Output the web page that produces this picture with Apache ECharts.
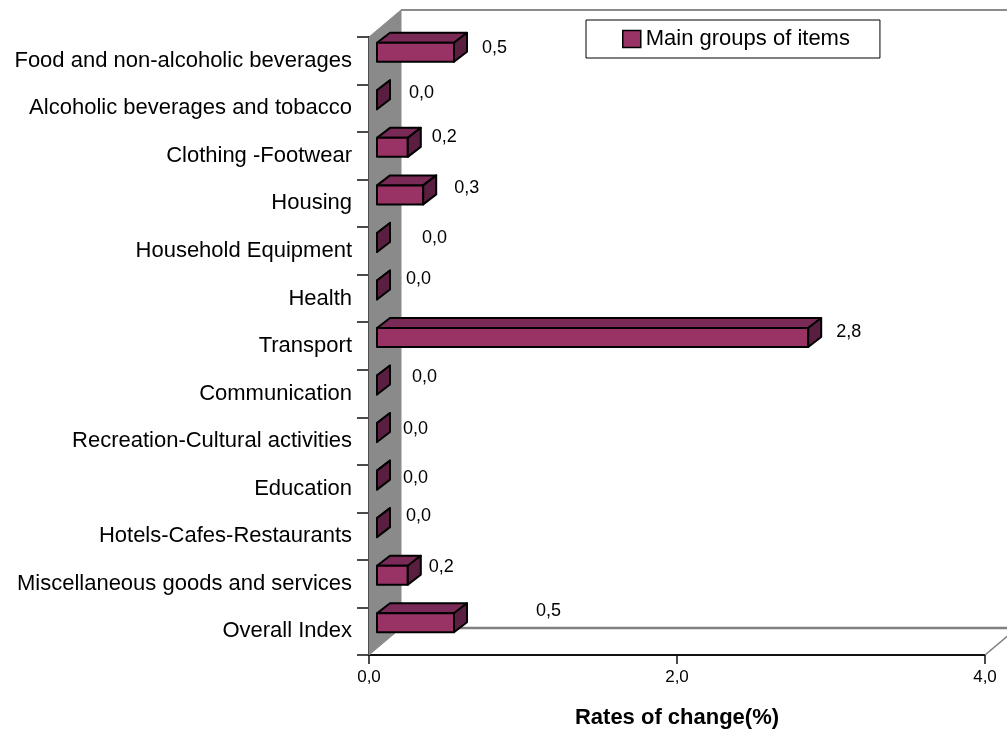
<!DOCTYPE html>
<html><head><meta charset="utf-8">
<script src="https://cdn.jsdelivr.net/npm/echarts@6/dist/echarts.min.js"></script>
<style>html,body{margin:0;padding:0;background:#fff}#c{width:1007px;height:740px}</style>
</head><body><div id="c"></div>
<script>
// ---- data ----
const categories = [
  'Food and non-alcoholic beverages',
  'Alcoholic beverages and tobacco',
  'Clothing -Footwear',
  'Housing',
  'Household Equipment',
  'Health',
  'Transport',
  'Communication',
  'Recreation-Cultural activities',
  'Education',
  'Hotels-Cafes-Restaurants',
  'Miscellaneous goods and services',
  'Overall Index'
];
const values = [0.5, 0.0, 0.2, 0.3, 0.0, 0.0, 2.8, 0.0, 0.0, 0.0, 0.0, 0.2, 0.5];
const seriesName = 'Main groups of items';
const axisTitle = 'Rates of change(%)';
const xMin = 0, xMax = 4, xStep = 2;

// ---- style / layout (not data) ----
const FONT = '"Liberation Sans", Arial, sans-serif';
const FRONT = '#993366', TOP = '#7a2a57', SIDE = '#5a1f40';
const WALL_DX = 32, WALL_DY = -27;      // chart depth projection
const BAR_FX = 8, BAR_FT = -18, BAR_FB = 1; // bar front face offset
const BAR_DX = 13, BAR_DY = -10;        // bar depth projection
const labelNudge = [[15,-13],[19,-15],[11,-19],[18,-15],[32,-13],[16,-19],[15,-14],[22,-17],[13,-12],[13,-11],[16,-20],[8,-17],[69,-20]];
const fmt = v => v.toFixed(1).replace('.', ',');

function renderWalls(params, api) {
  const cs = params.coordSys;
  const x = cs.x, y = cs.y, w = cs.width, h = cs.height, W = api.getWidth();
  return {
    type: 'group',
    children: [
      { type: 'polygon', shape: { points: [[x, y + h], [x, y], [x + WALL_DX, y + WALL_DY], [x + WALL_DX, y + h + WALL_DY]] },
        style: { fill: '#8a8a8a', stroke: '#8a8a8a', lineWidth: 1 } },
      { type: 'line', shape: { x1: x + WALL_DX, y1: y + WALL_DY, x2: W, y2: y + WALL_DY }, style: { stroke: '#8c8c8c', lineWidth: 2 } },
      { type: 'line', shape: { x1: x + WALL_DX, y1: y + h + WALL_DY, x2: W, y2: y + h + WALL_DY }, style: { stroke: '#808080', lineWidth: 2.5 } },
      { type: 'line', shape: { x1: x + w, y1: y + h, x2: x + w + WALL_DX, y2: y + h + WALL_DY }, style: { stroke: '#808080', lineWidth: 1.5 } }
    ]
  };
}

function renderBar(params, api) {
  const v = api.value(0), idx = api.value(1);
  const p0 = api.coord([0, idx]), p1 = api.coord([v, idx]);
  const cy = p0[1];
  const xa = p0[0] + BAR_FX, xb = p1[0] + BAR_FX;
  const yt = cy + BAR_FT, yb = cy + BAR_FB;
  const st = { stroke: '#000', lineWidth: 2, lineJoin: 'round' };
  const n = labelNudge[params.dataIndex] || [15, -15];
  return {
    type: 'group',
    children: [
      { type: 'polygon', shape: { points: [[xa, yt], [xb, yt], [xb + BAR_DX, yt + BAR_DY], [xa + BAR_DX, yt + BAR_DY]] },
        style: Object.assign({ fill: TOP }, st) },
      { type: 'polygon', shape: { points: [[xa, yt], [xb, yt], [xb, yb], [xa, yb]] },
        style: Object.assign({ fill: FRONT }, st) },
      { type: 'polygon', shape: { points: [[xb, yt], [xb + BAR_DX, yt + BAR_DY], [xb + BAR_DX, yb + BAR_DY], [xb, yb]] },
        style: Object.assign({ fill: SIDE }, st) },
      { type: 'text', x: xb + BAR_DX + n[0], y: cy + n[1],
        style: { text: fmt(v), fill: '#000', font: '18px ' + FONT, align: 'left', verticalAlign: 'middle' } }
    ]
  };
}

const chart = echarts.init(document.getElementById('c'), null, { renderer: 'canvas' });
chart.setOption({
  animation: false,
  backgroundColor: '#fff',
  grid: { left: 369, right: 22, top: 37, bottom: 85 },
  legend: {
    data: [{ name: seriesName, icon: 'rect' }],
    left: 586, top: 20,
    borderColor: '#000', borderWidth: 1,
    padding: [8, 30, 8, 36],
    itemWidth: 18, itemHeight: 17,
    itemStyle: { borderColor: '#000', borderWidth: 1.5 },
    textStyle: { fontSize: 22, fontFamily: FONT, color: '#000', lineHeight: 22 },
    selectedMode: false
  },
  xAxis: {
    type: 'value', min: xMin, max: xMax, interval: xStep,
    axisLine: { show: true, lineStyle: { color: '#111', width: 2 } },
    axisTick: { show: true, length: 9, lineStyle: { color: '#111', width: 1.5 } },
    splitLine: { show: false },
    axisLabel: { formatter: v => fmt(v), fontSize: 17, fontFamily: FONT, color: '#000', margin: 14 },
    name: axisTitle, nameLocation: 'middle', nameGap: 52,
    nameTextStyle: { fontSize: 22, fontWeight: 'bold', fontFamily: FONT, color: '#000' }
  },
  yAxis: {
    type: 'category', inverse: true, data: categories,
    axisLine: { show: true, lineStyle: { color: '#111', width: 2 } },
    axisTick: { show: true, length: 12, lineStyle: { color: '#111', width: 1.5 } },
    axisLabel: { fontSize: 22, fontFamily: FONT, color: '#000', margin: 17 },
    splitLine: { show: false }
  },
  series: [
    { type: 'custom', name: 'walls', renderItem: renderWalls, data: [[0, 0]], clip: false, silent: true, z: 1 },
    { type: 'custom', name: seriesName, renderItem: renderBar, clip: false, silent: true, z: 3,
      itemStyle: { color: FRONT },
      encode: { x: 0, y: 1 },
      data: values.map((v, i) => [v, i]) }
  ]
});
</script>
</body></html>
